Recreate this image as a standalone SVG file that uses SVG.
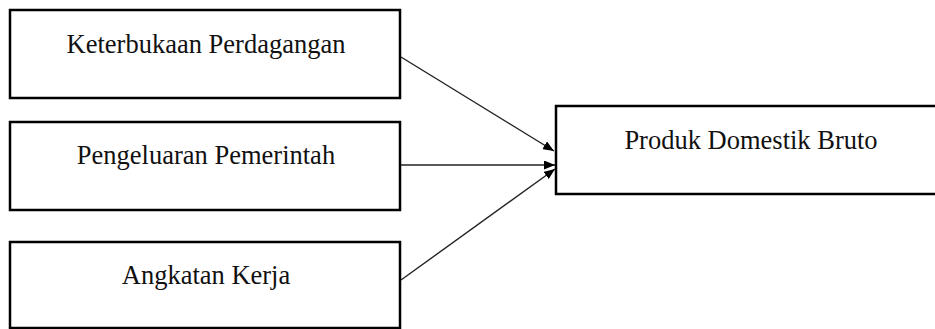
<svg xmlns="http://www.w3.org/2000/svg" width="935" height="329" viewBox="0 0 935 329">
<style>
.box{fill:#fff;stroke:#000;stroke-width:2.5}
.lbl{font-family:"Liberation Serif","Times New Roman",serif;font-size:26.5px;fill:#111;text-anchor:middle}
.edge{stroke:#222;stroke-width:1.4;fill:none}
</style>
<defs>
<marker id="ah" viewBox="0 0 11 9" refX="11" refY="4.5" markerWidth="11" markerHeight="9" markerUnits="userSpaceOnUse" orient="auto">
<path d="M0,0 L11,4.5 L0,9 z" fill="#000"/>
</marker>
</defs>
<rect width="935" height="329" fill="#fff"/>
<g id="connectors">
<line class="edge" x1="401" y1="57" x2="554" y2="151" marker-end="url(#ah)"/>
<line class="edge" x1="401" y1="165" x2="555" y2="165" marker-end="url(#ah)"/>
<line class="edge" x1="401" y1="280" x2="555" y2="169" marker-end="url(#ah)"/>
</g>
<g id="n1">
<rect class="box" x="10" y="10" width="390" height="88"/>
<text class="lbl" x="206" y="53">Keterbukaan Perdagangan</text>
</g>
<g id="n2">
<rect class="box" x="10" y="122" width="390" height="88"/>
<text class="lbl" x="206" y="164">Pengeluaran Pemerintah</text>
</g>
<g id="n3">
<rect class="box" x="10" y="242" width="390" height="86"/>
<text class="lbl" x="206" y="284">Angkatan Kerja</text>
</g>
<g id="n4">
<rect class="box" x="556" y="106" width="384" height="88"/>
<text class="lbl" x="751" y="149">Produk Domestik Bruto</text>
</g>
</svg>
